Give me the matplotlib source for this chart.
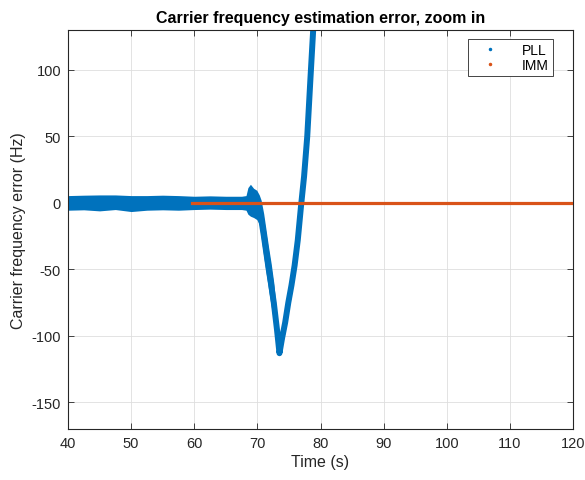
import numpy as np
import matplotlib
matplotlib.use('Agg')
import matplotlib.pyplot as plt
from matplotlib.lines import Line2D

plt.rcParams['font.family'] = ['Liberation Sans', 'DejaVu Sans']
plt.rcParams['axes.unicode_minus'] = False

# PLL error: centre of the noisy trace and half-width of the noise band (Hz)
pll_t = [40, 42.5, 45, 47.5, 50, 52.5, 55, 57.5, 60, 62.5, 65, 67.5, 68.2,
         68.5, 68.9, 69.4, 69.9, 70.3, 70.6, 71.0, 71.4, 71.8, 72.2, 72.6,
         73.1, 73.5, 73.9, 74.4, 74.9, 75.4, 75.9, 76.4, 76.9, 77.4, 77.9,
         78.4, 78.9]
pll_center = [0, 0.3, 0, 0.5, -0.5, 0, 0.3, 0, 0, 0.3, 0, 0, 0,
              1.5, 2, 0, -1.5, -5, -12, -24, -37, -50, -62, -75,
              -95, -113, -102, -90, -75, -62, -47, -28, -3, 20, 50,
              93, 135]
pll_spread = [5.5, 5.5, 6, 5.5, 6, 5.5, 5.5, 5.5, 5, 5, 5, 5, 5.5,
              10, 12, 11, 11, 11, 14, 16, 16, 16, 16, 15,
              10, 2, 6, 7, 7, 7, 7, 6, 5, 4, 4,
              4, 4]

# IMM error
imm_t = [59.7, 120]
imm_err = [0, 0]

blue = '#0072BD'
orange = '#D95319'
dark = '#262626'

fig = plt.figure(figsize=(5.85, 4.81), dpi=100)
ax = fig.add_axes([68/585, 1-430/481, (573-68)/585, (430-31)/481])

c = np.array(pll_center)
s = np.array(pll_spread)
ax.fill_between(pll_t, c - s, c + s, color=blue, lw=0, zorder=2)
ax.plot(pll_t, pll_center, color=blue, lw=4.3, zorder=2)
ax.plot(imm_t, imm_err, color=orange, lw=2.3, zorder=3)

ax.set_xlim(40, 120)
ax.set_ylim(-170, 130)
ax.set_xticks(np.arange(40, 121, 10))
ax.set_yticks(np.arange(-150, 101, 50))
ax.grid(True, color='#dedede', lw=0.6)
ax.set_axisbelow(True)
ax.tick_params(direction='in', top=True, right=True, colors=dark,
               labelsize=10.5, length=4, width=0.6, labelcolor=dark, pad=5)
for sp in ax.spines.values():
    sp.set_color(dark)
    sp.set_linewidth(0.8)

ax.set_title('Carrier frequency estimation error, zoom in', fontsize=11.5,
             fontweight='bold', color='black', pad=6)
ax.set_xlabel('Time (s)', fontsize=11.5, color=dark, labelpad=3)
ax.set_ylabel('Carrier frequency error (Hz)', fontsize=11.5, color=dark,
              labelpad=4)

handles = [Line2D([], [], ls='none', marker='.', ms=3, color=blue),
           Line2D([], [], ls='none', marker='.', ms=3, color=orange)]
leg = ax.legend(handles, ['PLL', 'IMM'], loc='upper right',
                bbox_to_anchor=(0.960, 0.977), borderaxespad=0,
                fontsize=10, fancybox=False, framealpha=1,
                handlelength=2.6, handletextpad=1.0, labelspacing=0.05,
                borderpad=0.3)
leg.get_frame().set_edgecolor(dark)
leg.get_frame().set_linewidth(0.6)

fig.savefig('out.png', dpi=100)
